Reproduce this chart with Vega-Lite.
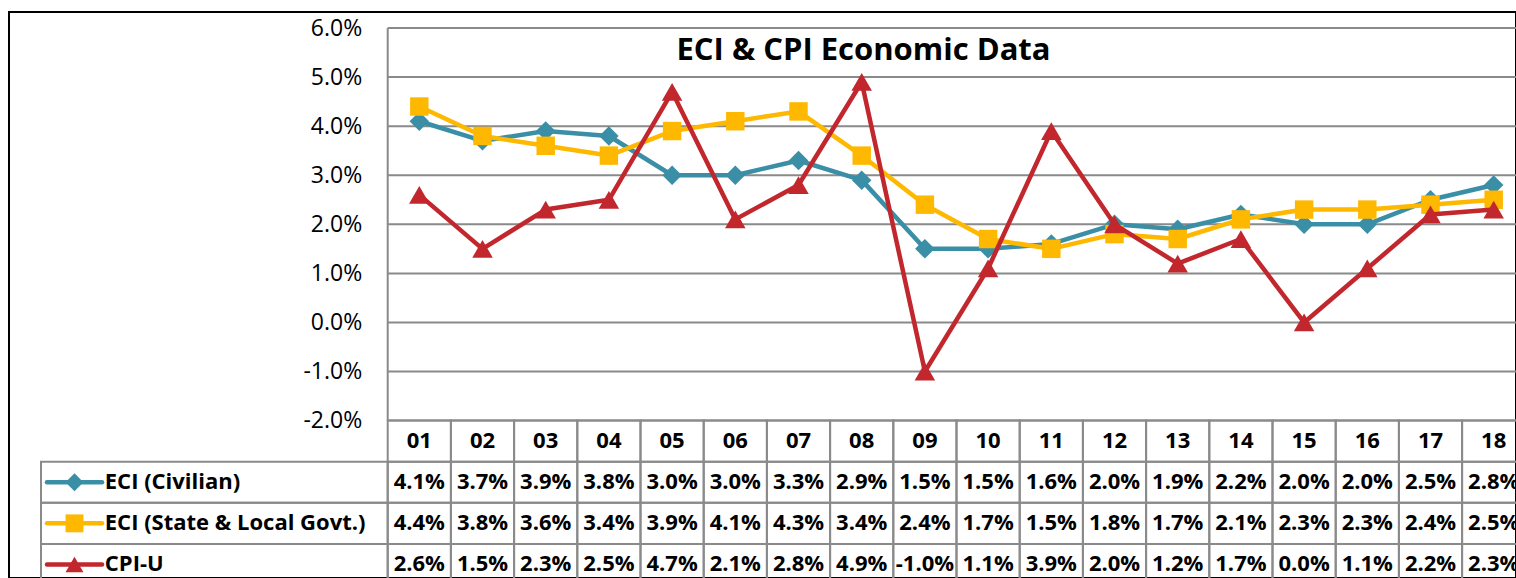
{
  "$schema": "https://vega.github.io/schema/vega-lite/v6.json",
  "width": 1507,
  "height": 566,
  "autosize": {"type": "none"},
  "padding": {"left": 9, "top": 12, "right": 0, "bottom": 0},
  "background": "white",
  "config": {"view": {"stroke": "#000000", "strokeWidth": 2}, "font": "Open Sans",
             "locale": {"number": {"decimal": ".", "thousands": ",", "grouping": [3], "currency": ["$", ""], "minus": "-"}}},
  "title": {"text": "ECI & CPI Economic Data", "font": "Open Sans", "fontSize": 31, "fontWeight": "bold", "color": "#000000", "anchor": "middle", "frame": "group", "dx": 101, "offset": -79, "baseline": "alphabetic"},
  "datasets": {
    "econ": [
      {"period": "01", "series": "ECI (Civilian)", "value": 0.041},
      {"period": "02", "series": "ECI (Civilian)", "value": 0.037},
      {"period": "03", "series": "ECI (Civilian)", "value": 0.039},
      {"period": "04", "series": "ECI (Civilian)", "value": 0.038},
      {"period": "05", "series": "ECI (Civilian)", "value": 0.030},
      {"period": "06", "series": "ECI (Civilian)", "value": 0.030},
      {"period": "07", "series": "ECI (Civilian)", "value": 0.033},
      {"period": "08", "series": "ECI (Civilian)", "value": 0.029},
      {"period": "09", "series": "ECI (Civilian)", "value": 0.015},
      {"period": "10", "series": "ECI (Civilian)", "value": 0.015},
      {"period": "11", "series": "ECI (Civilian)", "value": 0.016},
      {"period": "12", "series": "ECI (Civilian)", "value": 0.020},
      {"period": "13", "series": "ECI (Civilian)", "value": 0.019},
      {"period": "14", "series": "ECI (Civilian)", "value": 0.022},
      {"period": "15", "series": "ECI (Civilian)", "value": 0.020},
      {"period": "16", "series": "ECI (Civilian)", "value": 0.020},
      {"period": "17", "series": "ECI (Civilian)", "value": 0.025},
      {"period": "18", "series": "ECI (Civilian)", "value": 0.028},
      {"period": "01", "series": "ECI (State & Local Govt.)", "value": 0.044},
      {"period": "02", "series": "ECI (State & Local Govt.)", "value": 0.038},
      {"period": "03", "series": "ECI (State & Local Govt.)", "value": 0.036},
      {"period": "04", "series": "ECI (State & Local Govt.)", "value": 0.034},
      {"period": "05", "series": "ECI (State & Local Govt.)", "value": 0.039},
      {"period": "06", "series": "ECI (State & Local Govt.)", "value": 0.041},
      {"period": "07", "series": "ECI (State & Local Govt.)", "value": 0.043},
      {"period": "08", "series": "ECI (State & Local Govt.)", "value": 0.034},
      {"period": "09", "series": "ECI (State & Local Govt.)", "value": 0.024},
      {"period": "10", "series": "ECI (State & Local Govt.)", "value": 0.017},
      {"period": "11", "series": "ECI (State & Local Govt.)", "value": 0.015},
      {"period": "12", "series": "ECI (State & Local Govt.)", "value": 0.018},
      {"period": "13", "series": "ECI (State & Local Govt.)", "value": 0.017},
      {"period": "14", "series": "ECI (State & Local Govt.)", "value": 0.021},
      {"period": "15", "series": "ECI (State & Local Govt.)", "value": 0.023},
      {"period": "16", "series": "ECI (State & Local Govt.)", "value": 0.023},
      {"period": "17", "series": "ECI (State & Local Govt.)", "value": 0.024},
      {"period": "18", "series": "ECI (State & Local Govt.)", "value": 0.025},
      {"period": "01", "series": "CPI-U", "value": 0.026},
      {"period": "02", "series": "CPI-U", "value": 0.015},
      {"period": "03", "series": "CPI-U", "value": 0.023},
      {"period": "04", "series": "CPI-U", "value": 0.025},
      {"period": "05", "series": "CPI-U", "value": 0.047},
      {"period": "06", "series": "CPI-U", "value": 0.021},
      {"period": "07", "series": "CPI-U", "value": 0.028},
      {"period": "08", "series": "CPI-U", "value": 0.049},
      {"period": "09", "series": "CPI-U", "value": -0.010},
      {"period": "10", "series": "CPI-U", "value": 0.011},
      {"period": "11", "series": "CPI-U", "value": 0.039},
      {"period": "12", "series": "CPI-U", "value": 0.020},
      {"period": "13", "series": "CPI-U", "value": 0.012},
      {"period": "14", "series": "CPI-U", "value": 0.017},
      {"period": "15", "series": "CPI-U", "value": 0.000},
      {"period": "16", "series": "CPI-U", "value": 0.011},
      {"period": "17", "series": "CPI-U", "value": 0.022},
      {"period": "18", "series": "CPI-U", "value": 0.023}
    ],
    "grid": [
      {"pct": -0.02}, {"pct": -0.01}, {"pct": 0}, {"pct": 0.01}, {"pct": 0.02},
      {"pct": 0.03}, {"pct": 0.04}, {"pct": 0.05}, {"pct": 0.06}
    ],
    "frame": [{"part": "plot"}]
  },
  "resolve": {"scale": {"x": "independent", "y": "independent"}},
  "layer": [
    {
      "data": {"name": "grid"},
      "mark": {"type": "rule", "color": "#8a8a8a", "strokeWidth": 2},
      "encoding": {
        "y": {"field": "pct", "type": "quantitative",
              "scale": {"type": "linear", "domain": [-0.02, 0.06], "range": [408.6, 16], "nice": false, "zero": false},
              "axis": {"values": [-0.02, -0.01, 0, 0.01, 0.02, 0.03, 0.04, 0.05, 0.06], "format": ".1%", "labelExpr": "replace(datum.label, '\u2212', '-')", "grid": false, "domain": false, "ticks": false, "tickSize": 0, "labelPadding": 26, "labelFont": "Open Sans", "labelFontSize": 23, "labelColor": "#000000", "offset": -378.7, "title": null}},
        "x": {"datum": 0, "type": "quantitative", "scale": {"type": "linear", "domain": [0, 18], "range": [378.7, 1516.3], "nice": false, "zero": false}, "axis": null},
        "x2": {"datum": 18}
      }
    },
    {
      "data": {"name": "frame"},
      "mark": {"type": "rule", "color": "#8a8a8a", "strokeWidth": 2},
      "encoding": {
        "x": {"datum": 0, "type": "quantitative", "scale": {"type": "linear", "domain": [0, 18], "range": [378.7, 1516.3], "nice": false, "zero": false}, "axis": null},
        "y": {"datum": -0.02, "type": "quantitative", "scale": {"type": "linear", "domain": [-0.02, 0.06], "range": [408.6, 16], "nice": false, "zero": false}, "axis": null},
        "y2": {"datum": 0.06}
      }
    },
    {
      "data": {"name": "econ"},
      "transform": [{"filter": {"field": "series", "equal": "ECI (Civilian)"}}],
      "mark": {"type": "line", "color": "#3A8FA7", "strokeWidth": 4.5, "strokeJoin": "round", "strokeCap": "round"},
      "encoding": {
        "x": {"field": "period", "type": "ordinal", "scale": {"type": "point", "domain": ["01","02","03","04","05","06","07","08","09","10","11","12","13","14","15","16","17","18"], "range": [378.7, 1516.3], "padding": 0.5}, "axis": null},
        "y": {"field": "value", "type": "quantitative", "scale": {"type": "linear", "domain": [-0.02, 0.06], "range": [408.6, 16], "nice": false, "zero": false}, "axis": null}
      }
    },
    {
      "data": {"name": "econ"},
      "transform": [{"filter": {"field": "series", "equal": "ECI (Civilian)"}}],
      "mark": {"type": "point", "shape": "diamond", "filled": true, "opacity": 1, "size": 380, "color": "#3A8FA7"},
      "encoding": {
        "x": {"field": "period", "type": "ordinal", "scale": {"type": "point", "domain": ["01","02","03","04","05","06","07","08","09","10","11","12","13","14","15","16","17","18"], "range": [378.7, 1516.3], "padding": 0.5}, "axis": null},
        "y": {"field": "value", "type": "quantitative", "scale": {"type": "linear", "domain": [-0.02, 0.06], "range": [408.6, 16], "nice": false, "zero": false}, "axis": null}
      }
    },
    {
      "data": {"name": "econ"},
      "transform": [{"filter": {"field": "series", "equal": "ECI (State & Local Govt.)"}}],
      "mark": {"type": "line", "color": "#FFB800", "strokeWidth": 4.5, "strokeJoin": "round", "strokeCap": "round"},
      "encoding": {
        "x": {"field": "period", "type": "ordinal", "scale": {"type": "point", "domain": ["01","02","03","04","05","06","07","08","09","10","11","12","13","14","15","16","17","18"], "range": [378.7, 1516.3], "padding": 0.5}, "axis": null},
        "y": {"field": "value", "type": "quantitative", "scale": {"type": "linear", "domain": [-0.02, 0.06], "range": [408.6, 16], "nice": false, "zero": false}, "axis": null}
      }
    },
    {
      "data": {"name": "econ"},
      "transform": [{"filter": {"field": "series", "equal": "ECI (State & Local Govt.)"}}],
      "mark": {"type": "point", "shape": "square", "filled": true, "opacity": 1, "size": 340, "color": "#FFB800"},
      "encoding": {
        "x": {"field": "period", "type": "ordinal", "scale": {"type": "point", "domain": ["01","02","03","04","05","06","07","08","09","10","11","12","13","14","15","16","17","18"], "range": [378.7, 1516.3], "padding": 0.5}, "axis": null},
        "y": {"field": "value", "type": "quantitative", "scale": {"type": "linear", "domain": [-0.02, 0.06], "range": [408.6, 16], "nice": false, "zero": false}, "axis": null}
      }
    },
    {
      "data": {"name": "econ"},
      "transform": [{"filter": {"field": "series", "equal": "CPI-U"}}],
      "mark": {"type": "line", "color": "#C1272D", "strokeWidth": 4.5, "strokeJoin": "round", "strokeCap": "round"},
      "encoding": {
        "x": {"field": "period", "type": "ordinal", "scale": {"type": "point", "domain": ["01","02","03","04","05","06","07","08","09","10","11","12","13","14","15","16","17","18"], "range": [378.7, 1516.3], "padding": 0.5}, "axis": null},
        "y": {"field": "value", "type": "quantitative", "scale": {"type": "linear", "domain": [-0.02, 0.06], "range": [408.6, 16], "nice": false, "zero": false}, "axis": null}
      }
    },
    {
      "data": {"name": "econ"},
      "transform": [{"filter": {"field": "series", "equal": "CPI-U"}}],
      "mark": {"type": "point", "shape": "triangle-up", "filled": true, "opacity": 1, "size": 420, "color": "#C1272D"},
      "encoding": {
        "x": {"field": "period", "type": "ordinal", "scale": {"type": "point", "domain": ["01","02","03","04","05","06","07","08","09","10","11","12","13","14","15","16","17","18"], "range": [378.7, 1516.3], "padding": 0.5}, "axis": null},
        "y": {"field": "value", "type": "quantitative", "scale": {"type": "linear", "domain": [-0.02, 0.06], "range": [408.6, 16], "nice": false, "zero": false}, "axis": null}
      }
    },
    {
      "data": {"name": "econ"},
      "mark": {"type": "rect", "filled": false, "color": "#8a8a8a", "strokeWidth": 2},
      "encoding": {
        "x": {"field": "period", "type": "ordinal", "scale": {"type": "band", "domain": ["01","02","03","04","05","06","07","08","09","10","11","12","13","14","15","16","17","18"], "range": [378.7, 1516.3], "paddingInner": 0, "paddingOuter": 0}, "axis": null},
        "y": {"field": "series", "type": "nominal", "scale": {"type": "band", "domain": ["header", "ECI (Civilian)", "ECI (State & Local Govt.)", "CPI-U"], "range": [408.6, 573], "paddingInner": 0, "paddingOuter": 0}, "axis": null}
      }
    },
    {
      "data": {"name": "econ"},
      "transform": [{"filter": {"field": "series", "equal": "ECI (Civilian)"}}],
      "mark": {"type": "rect", "filled": false, "color": "#8a8a8a", "strokeWidth": 2},
      "encoding": {
        "x": {"field": "period", "type": "ordinal", "scale": {"type": "band", "domain": ["01","02","03","04","05","06","07","08","09","10","11","12","13","14","15","16","17","18"], "range": [378.7, 1516.3], "paddingInner": 0, "paddingOuter": 0}, "axis": null},
        "y": {"datum": "header", "type": "nominal", "scale": {"type": "band", "domain": ["header", "ECI (Civilian)", "ECI (State & Local Govt.)", "CPI-U"], "range": [408.6, 573], "paddingInner": 0, "paddingOuter": 0}, "axis": null}
      }
    },
    {
      "data": {"name": "econ"},
      "transform": [{"filter": {"field": "period", "equal": "01"}}],
      "mark": {"type": "rect", "filled": false, "color": "#8a8a8a", "strokeWidth": 2},
      "encoding": {
        "x": {"datum": 0, "type": "quantitative", "scale": {"type": "linear", "domain": [0, 1], "range": [32, 378.7], "nice": false, "zero": false}, "axis": null},
        "x2": {"datum": 1},
        "y": {"field": "series", "type": "nominal", "scale": {"type": "band", "domain": ["header", "ECI (Civilian)", "ECI (State & Local Govt.)", "CPI-U"], "range": [408.6, 573], "paddingInner": 0, "paddingOuter": 0}, "axis": null}
      }
    },
    {
      "data": {"name": "econ"},
      "mark": {"type": "text", "font": "Open Sans", "fontSize": 22, "fontWeight": "bold", "color": "#000000", "align": "center", "baseline": "middle"},
      "encoding": {
        "x": {"field": "period", "type": "ordinal", "scale": {"type": "point", "domain": ["01","02","03","04","05","06","07","08","09","10","11","12","13","14","15","16","17","18"], "range": [378.7, 1516.3], "padding": 0.5}, "axis": null},
        "y": {"field": "series", "type": "nominal", "scale": {"type": "point", "domain": ["header", "ECI (Civilian)", "ECI (State & Local Govt.)", "CPI-U"], "range": [408.6, 573], "padding": 0.5}, "axis": null},
        "text": {"field": "value", "type": "quantitative", "format": ".1%"}
      }
    },
    {
      "data": {"name": "econ"},
      "transform": [{"filter": {"field": "series", "equal": "ECI (Civilian)"}}],
      "mark": {"type": "text", "font": "Open Sans", "fontSize": 22, "fontWeight": "bold", "color": "#000000", "align": "center", "baseline": "middle"},
      "encoding": {
        "x": {"field": "period", "type": "ordinal", "scale": {"type": "point", "domain": ["01","02","03","04","05","06","07","08","09","10","11","12","13","14","15","16","17","18"], "range": [378.7, 1516.3], "padding": 0.5}, "axis": null},
        "y": {"datum": "header", "type": "nominal", "scale": {"type": "point", "domain": ["header", "ECI (Civilian)", "ECI (State & Local Govt.)", "CPI-U"], "range": [408.6, 573], "padding": 0.5}, "axis": null},
        "text": {"field": "period", "type": "nominal"}
      }
    },
    {
      "data": {"name": "econ"},
      "transform": [{"filter": {"field": "period", "equal": "01"}}],
      "mark": {"type": "rule", "strokeWidth": 4.5, "strokeCap": "round"},
      "encoding": {
        "x": {"datum": 0.0173, "type": "quantitative", "scale": {"type": "linear", "domain": [0, 1], "range": [32, 378.7], "nice": false, "zero": false}, "axis": null},
        "x2": {"datum": 0.176},
        "y": {"field": "series", "type": "nominal", "scale": {"type": "point", "domain": ["header", "ECI (Civilian)", "ECI (State & Local Govt.)", "CPI-U"], "range": [408.6, 573], "padding": 0.5}, "axis": null},
        "color": {"field": "series", "type": "nominal", "scale": {"domain": ["ECI (Civilian)", "ECI (State & Local Govt.)", "CPI-U"], "range": ["#3A8FA7", "#FFB800", "#C1272D"]}, "legend": null}
      }
    },
    {
      "data": {"name": "econ"},
      "transform": [{"filter": {"field": "period", "equal": "01"}}],
      "mark": {"type": "point", "filled": true, "opacity": 1, "size": 320},
      "encoding": {
        "x": {"datum": 0.0966, "type": "quantitative", "scale": {"type": "linear", "domain": [0, 1], "range": [32, 378.7], "nice": false, "zero": false}, "axis": null},
        "y": {"field": "series", "type": "nominal", "scale": {"type": "point", "domain": ["header", "ECI (Civilian)", "ECI (State & Local Govt.)", "CPI-U"], "range": [408.6, 573], "padding": 0.5}, "axis": null},
        "color": {"field": "series", "type": "nominal", "scale": {"domain": ["ECI (Civilian)", "ECI (State & Local Govt.)", "CPI-U"], "range": ["#3A8FA7", "#FFB800", "#C1272D"]}, "legend": null},
        "shape": {"field": "series", "type": "nominal", "scale": {"domain": ["ECI (Civilian)", "ECI (State & Local Govt.)", "CPI-U"], "range": ["diamond", "square", "triangle-up"]}, "legend": null}
      }
    },
    {
      "data": {"name": "econ"},
      "transform": [{"filter": {"field": "period", "equal": "01"}}],
      "mark": {"type": "text", "font": "Open Sans", "fontSize": 22, "fontWeight": "bold", "color": "#000000", "align": "left", "baseline": "middle"},
      "encoding": {
        "x": {"datum": 0.184, "type": "quantitative", "scale": {"type": "linear", "domain": [0, 1], "range": [32, 378.7], "nice": false, "zero": false}, "axis": null},
        "y": {"field": "series", "type": "nominal", "scale": {"type": "point", "domain": ["header", "ECI (Civilian)", "ECI (State & Local Govt.)", "CPI-U"], "range": [408.6, 573], "padding": 0.5}, "axis": null},
        "text": {"field": "series", "type": "nominal"}
      }
    }
  ]
}
